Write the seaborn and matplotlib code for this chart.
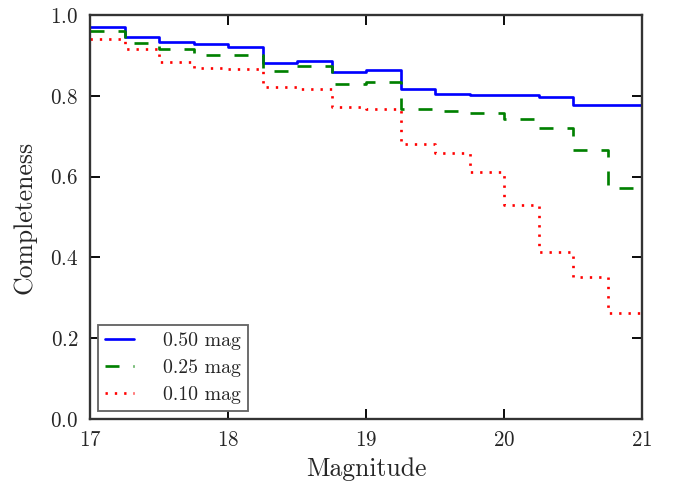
import numpy as np
import pandas as pd
import matplotlib
matplotlib.use('Agg')
import matplotlib.pyplot as plt
import seaborn as sns

# magnitude bin edges and completeness per bin
mag_edges = [17.0, 17.25, 17.5, 17.75, 18.0, 18.25, 18.5, 18.75, 19.0,
             19.25, 19.5, 19.75, 20.0, 20.25, 20.5, 20.75, 21.0]
comp_050 = [0.970, 0.946, 0.934, 0.928, 0.921, 0.881, 0.886, 0.860,
            0.864, 0.818, 0.805, 0.803, 0.801, 0.796, 0.778, 0.776]
comp_025 = [0.961, 0.931, 0.915, 0.902, 0.900, 0.861, 0.873, 0.828,
            0.835, 0.767, 0.762, 0.757, 0.743, 0.720, 0.667, 0.573]
comp_010 = [0.941, 0.915, 0.883, 0.870, 0.866, 0.823, 0.818, 0.773,
            0.767, 0.681, 0.659, 0.611, 0.529, 0.414, 0.351, 0.262]
labels = ['0.50 mag', '0.25 mag', '0.10 mag']

sns.set_theme(style='ticks')
plt.rcParams['font.family'] = 'serif'
plt.rcParams['font.serif'] = ['cmr10']
plt.rcParams['mathtext.fontset'] = 'cm'
plt.rcParams['axes.formatter.use_mathtext'] = True
plt.rcParams['lines.scale_dashes'] = False

fig = plt.figure(figsize=(676 / 168, 487 / 168), dpi=168)
ax = fig.add_axes([90 / 676, 1 - 419 / 487, 552 / 676, 404 / 487])

series = [
    (comp_050, labels[0], '#0000ff', '-'),
    (comp_025, labels[1], '#008000', (0, (6, 6))),
    (comp_010, labels[2], '#ff0000', (0, (1, 3))),
]
for vals, lab, col, ls in series:
    # steps-post needs the last value repeated at the closing edge
    d = pd.DataFrame({'mag': mag_edges, 'comp': vals + [vals[-1]]})
    sns.lineplot(data=d, x='mag', y='comp', ax=ax, color=col, linestyle=ls,
                 linewidth=1.15, drawstyle='steps-post', estimator=None,
                 label=lab)

ax.set_xlim(17, 21)
ax.set_ylim(0, 1.0)
ax.set_xticks([17, 18, 19, 20, 21])
ax.set_yticks(np.arange(0, 1.01, 0.2))
ax.tick_params(direction='in', top=True, right=True, length=4.2, width=0.8,
               labelsize=9, pad=5, color='black')
for sp in ax.spines.values():
    sp.set_color('#333333')
    sp.set_linewidth(1.0)

ax.set_xlabel('Magnitude', fontsize=11, labelpad=3)
ax.set_ylabel('Completeness', fontsize=11, labelpad=6)

leg = ax.legend(loc='lower left', fontsize=8.5, fancybox=False,
                edgecolor='#666666', framealpha=1, handlelength=1.45,
                handletextpad=1.5, borderpad=0.35, labelspacing=0.45,
                borderaxespad=0.4)
leg.get_frame().set_linewidth(0.8)

fig.savefig('out.png', dpi=168)
